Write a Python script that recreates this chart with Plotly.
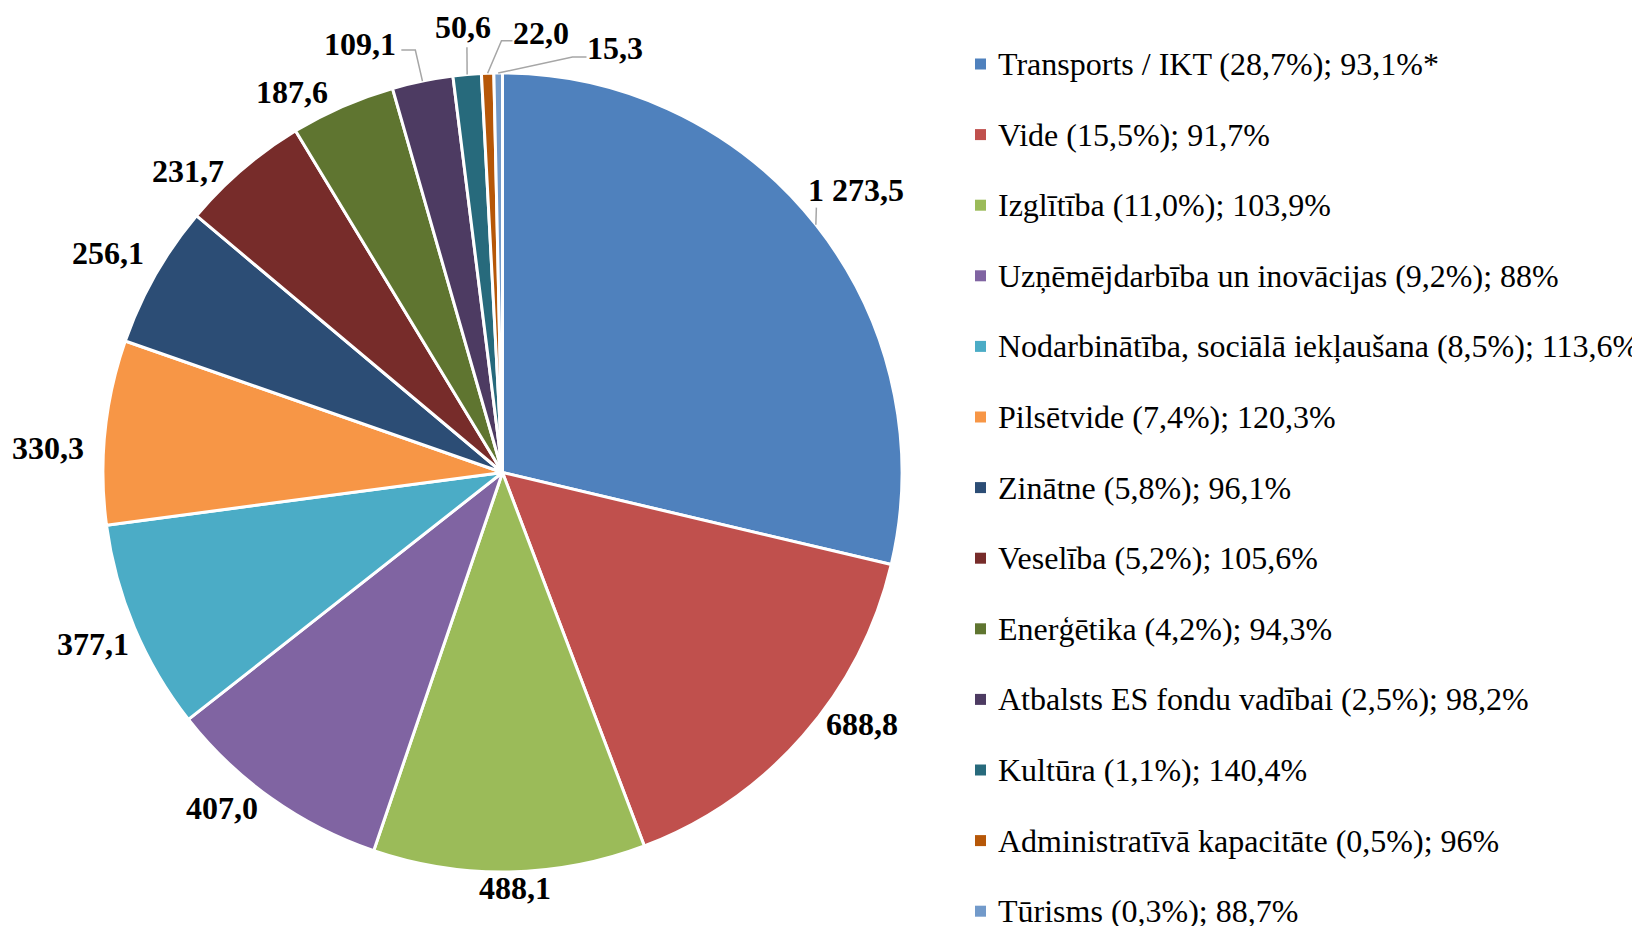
import math
import plotly.graph_objects as go

# dati
categories = [
    "Transports / IKT", "Vide", "Izglītība", "Uzņēmējdarbība un inovācijas",
    "Nodarbinātība, sociālā iekļaušana", "Pilsētvide", "Zinātne", "Veselība",
    "Enerģētika", "Atbalsts ES fondu vadībai", "Kultūra",
    "Administratīvā kapacitāte", "Tūrisms",
]
values = [1273.5, 688.8, 488.1, 407.0, 377.1, 330.3, 256.1, 231.7, 187.6, 109.1, 50.6, 22.0, 15.3]
execution = ["93,1%*", "91,7%", "103,9%", "88%", "113,6%", "120,3%", "96,1%",
             "105,6%", "94,3%", "98,2%", "140,4%", "96%", "88,7%"]

colors = ["#4F81BD", "#C0504D", "#9BBB59", "#8064A2", "#4BACC6", "#F79646", "#2C4D75",
          "#772C2A", "#5F7530", "#4D3B62", "#276A7C", "#B65708", "#729ACA"]

# izkārtojums (lapas pikseļos)
W, H = 1640, 926
PAGE_OFF = 8  # body margin pārlūkā
CX, CY, R = 502.5, 472.5, 399.5
FONT = "Liberation Serif, Times New Roman, serif"

# etiķešu nobīde no sektora vidus: (leņķis grādos, rādiuss R vienībās)
label_nudge = [(-0.3, 1.134), (-6.3, 1.098), (-0.7, 1.040), (4.6, 1.094), (0.1, 1.112),
               (-2.7, 1.139), (-0.5, 1.130), (-5.6, 1.091), (-5.4, 1.089), (-6.8, 1.130),
               (0.0, 1.119), (7.2, 1.105), (15.4, 1.099)]
# līniju lūzuma punkti attiecībā pret etiķetes centru
leaders = {
    0: [(-40, 18)],
    9: [(41, 6), (55, 6)],
    10: [(4, 20)],
    11: [(-29, 8), (-40, 8)],
    12: [(-28, 9), (-42, 9)],
}


def px(x, y):
    return (x - PAGE_OFF) / W, 1 - (y - PAGE_OFF) / H


def polar(angle, r):
    a = math.radians(angle)
    return CX + r * math.sin(a), CY - r * math.cos(a)


def fmt_value(v):
    return f"{v:,.1f}".replace(",", " ").replace(".", ",")


total = sum(values)

dx0, dy1 = px(CX - R, CY - R)
dx1, dy0 = px(CX + R, CY + R)
fig = go.Figure(go.Pie(
    labels=categories,
    values=values,
    sort=False,
    direction="clockwise",
    rotation=0,
    marker=dict(colors=colors, line=dict(color="white", width=3)),
    textinfo="none",
    showlegend=False,
    domain=dict(x=[dx0, dx1], y=[dy0, dy1]),
))

annotations = []
shapes = []

cum = 0.0
for i, v in enumerate(values):
    mid = (cum + v / 2) / total * 360
    cum += v
    da, rf = label_nudge[i]
    lx, ly = polar(mid + da, rf * R)
    x, y = px(lx, ly)
    annotations.append(dict(
        x=x, y=y, xref="paper", yref="paper", text=fmt_value(v), showarrow=False,
        xanchor="center", yanchor="middle",
        font=dict(family=FONT, size=32, color="black", weight="bold"),
    ))
    if i in leaders:
        pts = [(lx + dx, ly + dy) for dx, dy in leaders[i]] + [polar(mid, R)]
        path = "M " + " L ".join(f"{px(a, b)[0]},{px(a, b)[1]}" for a, b in pts)
        shapes.append(dict(type="path", xref="paper", yref="paper", path=path,
                           line=dict(color="#A6A6A6", width=1.5)))

# leģenda
LEG_X, LEG_Y0, LEG_DY = 975, 64, 70.6
for i, name in enumerate(categories):
    yc = LEG_Y0 + i * LEG_DY
    share = f"{values[i] / total * 100:.1f}".replace(".", ",")
    x0, y0 = px(LEG_X, yc + 5.5)
    x1, y1 = px(LEG_X + 11, yc - 5.5)
    shapes.append(dict(type="rect", xref="paper", yref="paper", x0=x0, y0=y0, x1=x1, y1=y1,
                       fillcolor=colors[i], line=dict(width=0)))
    tx, ty = px(LEG_X + 21, yc)
    annotations.append(dict(
        x=tx, y=ty, xref="paper", yref="paper", showarrow=False,
        text=f"{name} ({share}%); {execution[i]}",
        xanchor="left", yanchor="middle",
        font=dict(family=FONT, size=32, color="black"),
    ))

fig.update_layout(
    width=W, height=H,
    margin=dict(l=0, r=0, t=0, b=0),
    paper_bgcolor="white",
    plot_bgcolor="white",
    font=dict(family=FONT),
    annotations=annotations,
    shapes=shapes,
)

fig.write_html("out.html")
